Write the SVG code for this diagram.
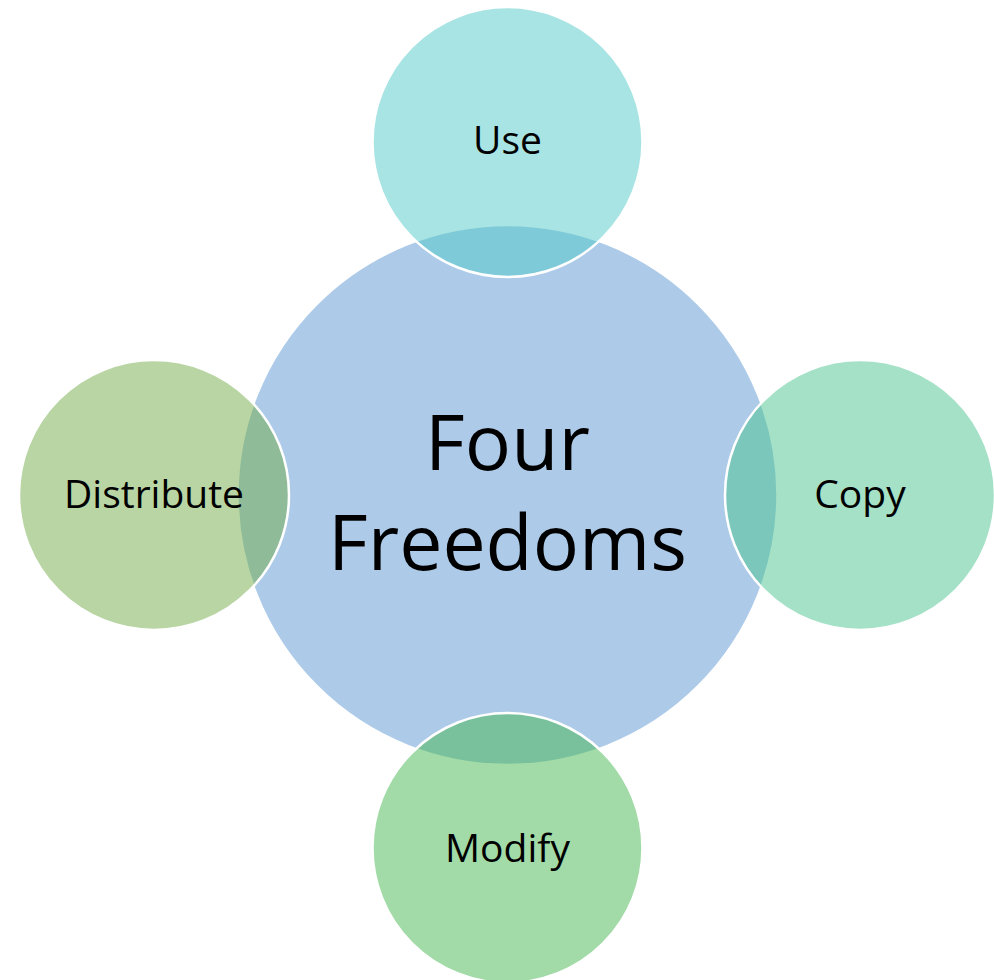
<svg xmlns="http://www.w3.org/2000/svg" width="994" height="980" viewBox="0 0 994 980">
<style>
  .lbl { font-family: "Open Sans", "Noto Sans", "Liberation Sans", sans-serif; fill: #000; text-anchor: middle; }
  .sm { font-size: 39px; }
  .big { font-size: 77px; }
  .circ { stroke: #fff; stroke-width: 2.5; }
</style>
<rect width="994" height="980" fill="#fff"/>
<g id="center">
  <circle class="circ" cx="507.5" cy="495" r="270" fill="#ADCBE9"/>
</g>
<g id="use">
  <circle class="circ" cx="507.5" cy="142" r="135" fill="rgb(81,201,199)" fill-opacity="0.5"/>
  <text class="lbl sm" x="507.5" y="154">Use</text>
</g>
<g id="copy">
  <circle class="circ" cx="860" cy="495" r="135" fill="rgb(75,195,143)" fill-opacity="0.5"/>
  <text class="lbl sm" x="860" y="508">Copy</text>
</g>
<g id="modify">
  <circle class="circ" cx="507.5" cy="848" r="135" fill="rgb(69,183,79)" fill-opacity="0.5"/>
  <text class="lbl sm" x="507.5" y="862">Modify</text>
</g>
<g id="distribute">
  <circle class="circ" cx="154" cy="495" r="135" fill="rgb(113,171,71)" fill-opacity="0.5"/>
  <text class="lbl sm" x="154" y="508">Distribute</text>
</g>
<g id="center-label">
  <text class="lbl big" x="507.5" y="470">Four</text>
  <text class="lbl big" x="507.5" y="570">Freedoms</text>
</g>
<g id="connectors"/>
</svg>
